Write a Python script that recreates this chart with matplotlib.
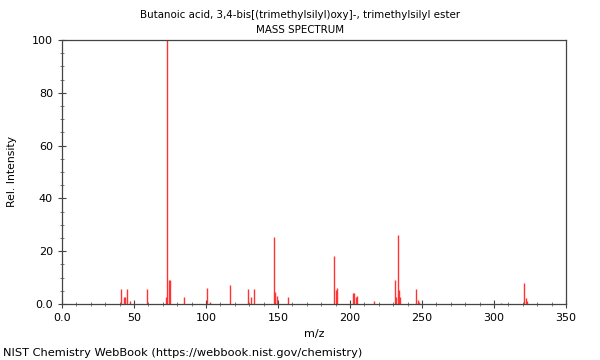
import matplotlib
matplotlib.use('Agg')
import matplotlib.pyplot as plt
from matplotlib.ticker import MultipleLocator, FuncFormatter

title = 'Butanoic acid, 3,4-bis[(trimethylsilyl)oxy]-, trimethylsilyl ester'

# m/z and relative intensity
mz = [41, 43, 44, 45, 47, 59, 72, 73, 74, 75, 85, 101, 103, 117,
      129, 131, 133, 147, 148, 149, 157, 189, 190, 191,
      202, 203, 204, 205, 217, 231, 232, 233, 234, 235,
      246, 247, 248, 305, 321, 322, 323]
intensity = [5.7, 2.8, 2.8, 5.8, 1.3, 5.7, 2.8, 100, 9.0, 8.9, 2.8, 5.9, 0.9, 7.3,
             5.8, 2.5, 5.8, 25.3, 4.4, 2.9, 2.8, 18.0, 5.3, 6.2,
             4.3, 4.3, 2.5, 2.9, 1.3, 9.2, 2.5, 26.3, 5.4, 2.5,
             5.5, 1.5, 0.6, 0.3, 7.8, 2.3, 1.1]

fig = plt.figure(figsize=(6, 3.6), dpi=100)
ax = fig.add_axes([0.1033, 0.1556, 0.84, 0.7333])

ax.vlines(mz, 0, intensity, color='#ff3333', linewidth=1)

ax.set_xlim(0, 350)
ax.set_ylim(0, 100)
ax.xaxis.set_major_locator(MultipleLocator(50))
ax.xaxis.set_minor_locator(MultipleLocator(10))
ax.yaxis.set_major_locator(MultipleLocator(20))
ax.yaxis.set_minor_locator(MultipleLocator(5))
fmt = FuncFormatter(lambda v, p: '0.0' if v == 0 else '%d' % v)
ax.xaxis.set_major_formatter(fmt)
ax.yaxis.set_major_formatter(fmt)

ax.tick_params(which='major', direction='inout', length=6, width=0.8,
               labelsize=8, color='#444444')
ax.tick_params(which='minor', direction='inout', length=3, width=0.6,
               color='#666666')
for s in ax.spines.values():
    s.set_color('#444444')
    s.set_linewidth(0.9)

ax.set_xlabel('m/z', fontsize=8, labelpad=4)
ax.set_ylabel('Rel. Intensity', fontsize=7.8, labelpad=11)

fig.text(0.5, 0.958, title, ha='center', va='center', fontsize=7.4)
fig.text(0.5, 0.916, 'MASS SPECTRUM', ha='center', va='center', fontsize=7.4)
fig.text(0.005, 0.02, 'NIST Chemistry WebBook (https://webbook.nist.gov/chemistry)',
         ha='left', va='center', fontsize=8.2)

fig.savefig('out.png', dpi=100)
